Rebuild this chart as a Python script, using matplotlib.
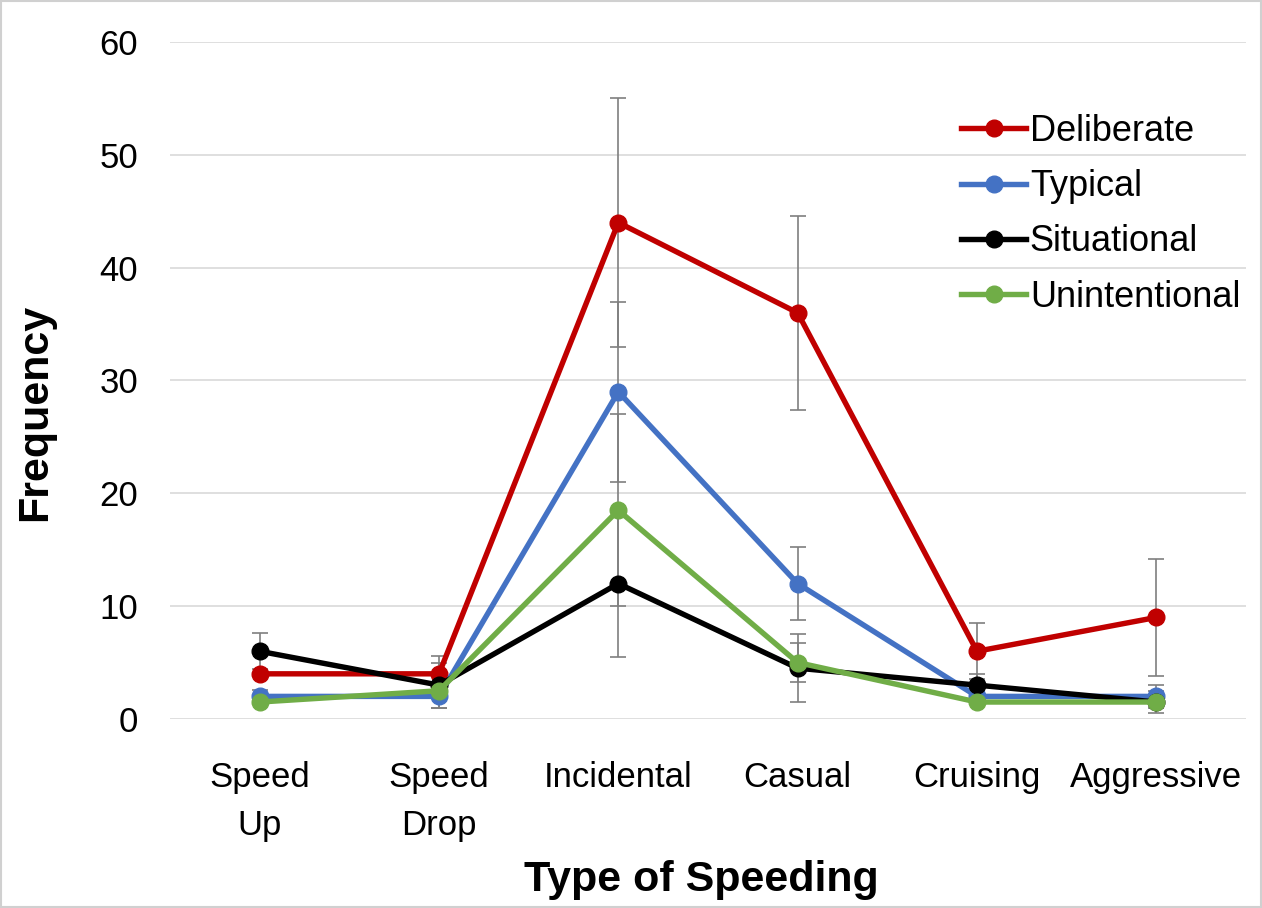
import matplotlib
matplotlib.use("Agg")
import matplotlib.pyplot as plt
from matplotlib.patches import Rectangle

plt.rcParams['font.family'] = ['Liberation Sans', 'DejaVu Sans']

categories = ["Speed\nUp", "Speed\nDrop", "Incidental", "Casual", "Cruising", "Aggressive"]
series_names = ["Deliberate", "Typical", "Situational", "Unintentional"]
deliberate = [4, 4, 44, 36, 6, 9]
typical = [2, 2, 29, 12, 2, 2]
situational = [6, 3, 12, 4.5, 3, 1.5]
unintentional = [1.5, 2.5, 18.5, 5, 1.5, 1.5]
deliberate_err = [0, 1.6, 11, 8.6, 2.5, 5.2]
typical_err = [0.6, 1, 8, 3.2, 0.5, 1]
situational_err = [1.6, 2, 6.5, 3, 1, 1]
unintentional_err = [0, 0, 8.5, 1.7, 0, 0]
colors = ["#C00000", "#4472C4", "#000000", "#70AD47"]
yticks = [0, 10, 20, 30, 40, 50, 60]

values = [deliberate, typical, situational, unintentional]
errors = [deliberate_err, typical_err, situational_err, unintentional_err]

fig = plt.figure(figsize=(12.62, 9.08), dpi=100)
ax = fig.add_axes([0.1347, 0.2082, 0.8526, 0.7455])

x = list(range(len(categories)))
for vals, errs in zip(values, errors):
    ax.errorbar(x, vals, yerr=errs, fmt='none', ecolor='#7F7F7F', elinewidth=1.2,
                capsize=5.5, capthick=1.2, zorder=2)
for name, vals, c in zip(series_names, values, colors):
    ax.plot(x, vals, color=c, lw=3.9, marker='o', markersize=12, label=name, zorder=3)

ax.set_xlim(-0.5, 5.5)
ax.set_ylim(0, 60)
ax.set_yticks(yticks)
ax.set_xticks(x)
ax.set_xticklabels(categories, fontsize=25, linespacing=1.6)
ax.tick_params(axis='y', labelsize=25, length=0, pad=23)
ax.tick_params(axis='x', length=0, pad=30)
ax.grid(axis='y', color='#D9D9D9', lw=1.2, zorder=0)
ax.set_axisbelow(True)
for s in ax.spines.values():
    s.set_visible(False)

ax.set_ylabel("Frequency", fontsize=31, fontweight='bold')
ax.set_xlabel("Type of Speeding", fontsize=31, fontweight='bold')
ax.yaxis.set_label_coords(-0.125, 0.453)
ax.xaxis.set_label_coords(0.4935, -0.238)
ax.yaxis.label.set_verticalalignment('center')
ax.xaxis.label.set_verticalalignment('center')

leg = ax.legend(loc='upper right', bbox_to_anchor=(1.008, 0.915), frameon=False,
                fontsize=26, handlelength=1.8, handletextpad=0.1, labelspacing=0.56,
                borderaxespad=0)

fig.patches.append(Rectangle((0.001, 0.001), 0.998, 0.998, transform=fig.transFigure,
                             fill=False, edgecolor='#D0D0D0', lw=1.5))

fig.savefig("out.png", dpi=100)
